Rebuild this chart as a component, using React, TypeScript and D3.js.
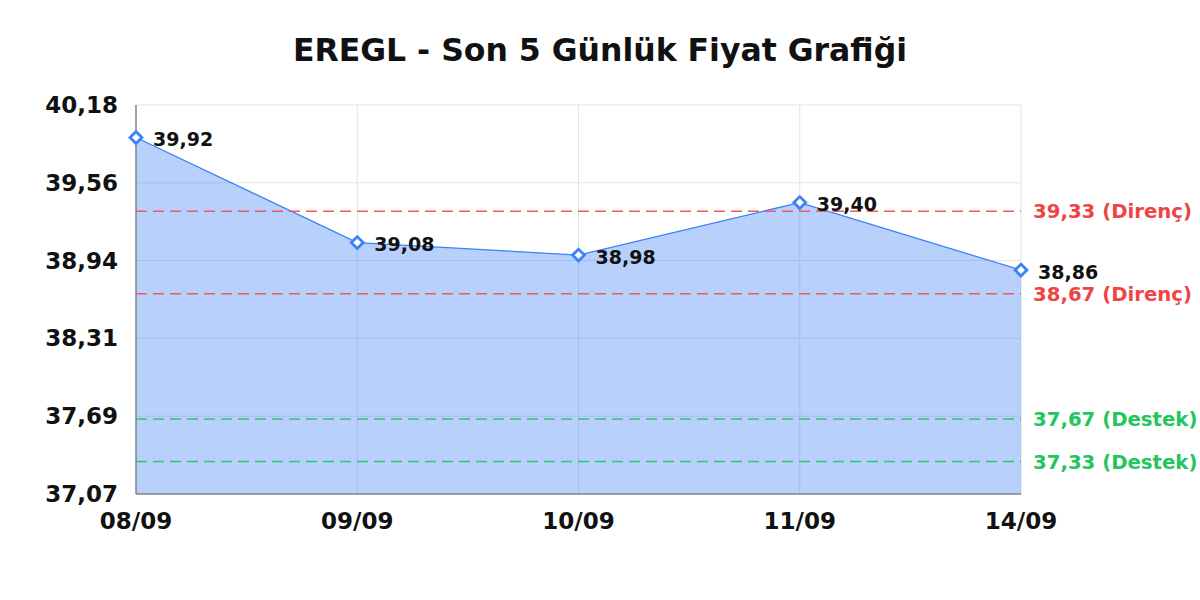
import React, { useEffect, useRef } from 'react';
import * as d3 from 'd3';

const days: string[] = ['08/09', '09/09', '10/09', '11/09', '14/09'];
const prices: number[] = [39.92, 39.08, 38.98, 39.4, 38.86];
const yTicks: number[] = [37.07, 37.692, 38.314, 38.936, 39.558, 40.18];
const resistance: number[] = [39.33, 38.67];
const support: number[] = [37.67, 37.33];

const fmt = (v: number) => v.toFixed(2).replace('.', ',');

export default function App() {
  const ref = useRef<SVGSVGElement>(null);

  useEffect(() => {
    document.body.style.margin = '0';
    draw();
  }, []);

  function draw() {
    const width = 1200;
    const height = 600;
    const margin = { top: 105, right: 179, bottom: 106, left: 136 };
    const font = '"DejaVu Sans", Verdana, sans-serif';

    const svg = d3.select(ref.current);
    svg.selectAll('*').remove();

    const x = d3.scalePoint<string>()
      .domain(days)
      .range([margin.left, width - margin.right]);

    const y = d3.scaleLinear()
      .domain([yTicks[0], yTicks[yTicks.length - 1]])
      .range([height - margin.bottom, margin.top]);

    // title
    svg.append('text')
      .attr('x', width / 2)
      .attr('y', 61)
      .attr('text-anchor', 'middle')
      .style('font-family', font)
      .style('font-weight', 'bold')
      .style('font-size', '31.5px')
      .attr('fill', '#111')
      .text('EREGL - Son 5 Günlük Fiyat Grafiği');

    // grid
    svg.append('g')
      .selectAll('line')
      .data(yTicks)
      .enter()
      .append('line')
      .attr('x1', margin.left)
      .attr('x2', width - margin.right)
      .attr('y1', (d) => y(d))
      .attr('y2', (d) => y(d))
      .attr('stroke', '#e2e2e2')
      .attr('stroke-width', 1);

    svg.append('g')
      .selectAll('line')
      .data(days)
      .enter()
      .append('line')
      .attr('x1', (d) => x(d)!)
      .attr('x2', (d) => x(d)!)
      .attr('y1', margin.top)
      .attr('y2', height - margin.bottom)
      .attr('stroke', '#e2e2e2')
      .attr('stroke-width', 1);

    // area
    const area = d3.area<number>()
      .x((d, i) => x(days[i])!)
      .y0(y(yTicks[0]))
      .y1((d) => y(d));

    svg.append('path')
      .datum(prices)
      .attr('d', area)
      .attr('fill', '#3b82f6')
      .attr('fill-opacity', 0.37);

    const line = d3.line<number>()
      .x((d, i) => x(days[i])!)
      .y((d) => y(d));

    svg.append('path')
      .datum(prices)
      .attr('d', line)
      .attr('fill', 'none')
      .attr('stroke', '#3b82f6')
      .attr('stroke-width', 1.3);

    // support / resistance
    const levels = [
      ...resistance.map((v) => ({ v, color: '#f25a5a', text: '#ef4444', name: 'Direnç' })),
      ...support.map((v) => ({ v, color: '#2ec66a', text: '#22c55e', name: 'Destek' })),
    ];

    const lv = svg.append('g').selectAll('g')
      .data(levels)
      .enter()
      .append('g');

    lv.append('line')
      .attr('x1', margin.left)
      .attr('x2', width - margin.right)
      .attr('y1', (d) => y(d.v))
      .attr('y2', (d) => y(d.v))
      .attr('stroke', (d) => d.color)
      .attr('stroke-width', 1.5)
      .attr('stroke-dasharray', '11,6');

    lv.append('text')
      .attr('x', width - margin.right + 12)
      .attr('y', (d) => y(d.v))
      .attr('dy', '0.36em')
      .style('font-family', font)
      .style('font-weight', 'bold')
      .style('font-size', '19.7px')
      .attr('fill', (d) => d.text)
      .text((d) => `${fmt(d.v)} (${d.name})`);

    // axes lines
    svg.append('line')
      .attr('x1', margin.left)
      .attr('x2', margin.left)
      .attr('y1', margin.top)
      .attr('y2', height - margin.bottom)
      .attr('stroke', '#888')
      .attr('stroke-width', 1.5);

    svg.append('line')
      .attr('x1', margin.left)
      .attr('x2', width - margin.right)
      .attr('y1', height - margin.bottom)
      .attr('y2', height - margin.bottom)
      .attr('stroke', '#888')
      .attr('stroke-width', 1.5);

    // y tick labels
    svg.append('g')
      .selectAll('text')
      .data(yTicks)
      .enter()
      .append('text')
      .attr('x', margin.left - 18)
      .attr('y', (d) => y(d))
      .attr('dy', '0.35em')
      .attr('text-anchor', 'end')
      .style('font-family', font)
      .style('font-weight', 'bold')
      .style('font-size', '23px')
      .attr('fill', '#111')
      .text((d) => fmt(d));

    // x tick labels
    svg.append('g')
      .selectAll('text')
      .data(days)
      .enter()
      .append('text')
      .attr('x', (d) => x(d)!)
      .attr('y', height - margin.bottom + 35)
      .attr('text-anchor', 'middle')
      .style('font-family', font)
      .style('font-weight', 'bold')
      .style('font-size', '23px')
      .attr('fill', '#111')
      .text((d) => d);

    // markers
    svg.append('g')
      .selectAll('path')
      .data(prices)
      .enter()
      .append('path')
      .attr('d', d3.symbol(d3.symbolDiamond2, 90))
      .attr('transform', (d, i) => `translate(${x(days[i])}, ${y(d)})`)
      .attr('fill', '#fff')
      .attr('stroke', '#3b82f6')
      .attr('stroke-width', 2.8);

    // point labels
    svg.append('g')
      .selectAll('text')
      .data(prices)
      .enter()
      .append('text')
      .attr('x', (d, i) => x(days[i])! + 17)
      .attr('y', (d) => y(d) + 2)
      .attr('dy', '0.35em')
      .style('font-family', font)
      .style('font-weight', 'bold')
      .style('font-size', '19px')
      .attr('fill', '#111')
      .text((d) => fmt(d));
  }

  return <svg ref={ref} width={1200} height={600} style={{ display: 'block' }} />;
}
